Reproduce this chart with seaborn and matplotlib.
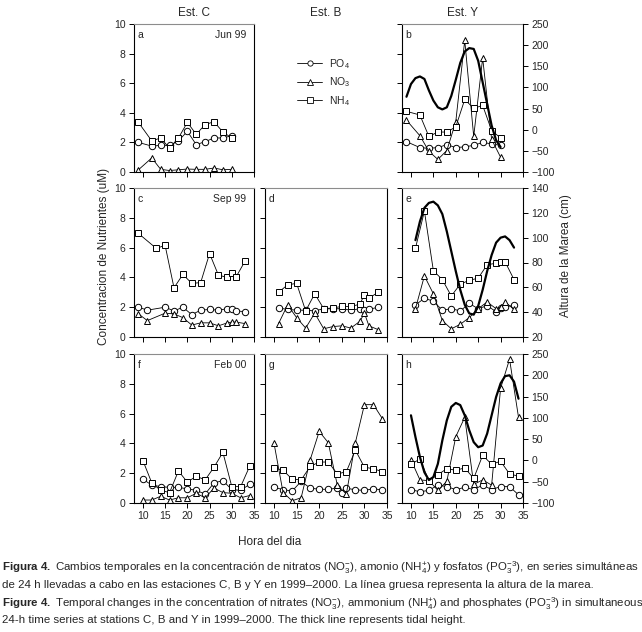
import matplotlib
matplotlib.use("Agg")
import matplotlib.pyplot as plt
from matplotlib import font_manager
from matplotlib.lines import Line2D
import seaborn as sns

# values (hour of day, concentration uM, tide cm)
# Est. C - Jun 99
a_x = [9, 12, 14, 16, 18, 20, 22, 24, 26, 28, 30]
a_po4 = [2.0, 1.75, 1.8, 1.8, 2.1, 2.75, 1.85, 2.05, 2.3, 2.3, 2.45]
a_no3 = [0.15, 0.95, 0.18, 0.1, 0.15, 0.2, 0.18, 0.18, 0.27, 0.15, 0.18]
a_nh4 = [3.35, 2.1, 2.3, 1.6, 2.3, 3.35, 2.55, 3.2, 3.4, 2.7, 2.3]

# Est. Y - Jun 99
b_x = [9, 12, 14, 16, 18, 20, 22, 24, 26, 28, 30]
b_po4 = [2.05, 1.65, 1.6, 1.65, 1.85, 1.65, 1.7, 1.8, 2.0, 1.9, 1.8]
b_no3 = [3.5, 2.45, 1.4, 0.85, 1.45, 3.4, 8.9, 2.4, 7.7, 2.2, 1.0]
b_nh4 = [4.1, 3.85, 2.4, 2.7, 2.7, 3.05, 4.9, 4.3, 4.5, 2.8, 2.3]
b_tide_x = [9, 10, 11, 12, 13, 14, 15, 16, 17, 18, 19, 20, 21, 22, 23, 24, 25, 26, 27, 28, 29, 30]
b_tide = [78, 108, 122, 126, 120, 93, 69, 53, 48, 53, 80, 118, 158, 185, 193, 191, 163, 112, 61, 10, -25, -41]

# Est. C - Sep 99
c_x = [9, 11, 15, 17, 19, 21, 23, 25, 27, 29, 30, 31, 33]
c_nh4_x = [9, 13, 15, 17, 19, 21, 23, 25, 27, 29, 30, 31, 33]
c_po4 = [2.0, 1.8, 2.0, 1.75, 2.0, 1.5, 1.8, 1.85, 1.8, 1.9, 1.85, 1.75, 1.7]
c_no3 = [1.55, 1.1, 1.6, 1.55, 1.3, 0.8, 0.95, 0.95, 0.75, 0.95, 1.0, 1.0, 0.9]
c_nh4 = [6.95, 5.95, 6.15, 3.3, 4.2, 3.6, 3.65, 5.6, 4.15, 4.0, 4.3, 4.05, 5.1]

# Est. B - Sep 99
d_x = [11, 13, 15, 17, 19, 21, 23, 25, 27, 29, 30, 31, 33]
d_po4 = [1.95, 1.85, 1.8, 1.8, 1.75, 1.9, 1.9, 1.9, 1.8, 1.9, 1.8, 1.85, 2.0]
d_no3 = [0.9, 2.15, 1.3, 0.6, 1.6, 0.55, 0.7, 0.75, 0.6, 1.05, 1.6, 0.75, 0.5]
d_nh4 = [3.0, 3.5, 3.6, 1.75, 2.9, 1.9, 1.95, 2.05, 2.05, 2.2, 2.85, 2.6, 3.0]

# Est. Y - Sep 99
e_x = [11, 13, 15, 17, 19, 21, 23, 25, 27, 29, 30, 31, 33]
e_po4 = [2.15, 2.6, 2.4, 1.8, 1.9, 1.75, 2.25, 1.9, 2.1, 1.7, 1.95, 2.0, 2.15]
e_no3 = [1.9, 4.1, 2.9, 1.1, 0.55, 0.85, 1.3, 1.9, 2.35, 1.9, 2.0, 2.35, 1.85]
e_nh4 = [5.95, 8.45, 4.45, 3.85, 2.75, 3.55, 3.8, 3.95, 4.85, 4.95, 5.05, 5.05, 3.85]
e_tide_x = [11, 12, 13, 14, 15, 16, 17, 18, 19, 20, 21, 22, 23, 24, 25, 26, 27, 28, 29, 30, 31, 32, 33]
e_tide = [98, 113, 124, 128, 129, 126, 119, 105, 89, 73, 58, 46, 39, 38, 45, 58, 73, 86, 96, 100, 101, 98, 92]

# Est. C - Feb 00
f_x = [10, 12, 14, 16, 18, 20, 22, 24, 26, 28, 30, 32, 34]
f_po4 = [1.6, 1.2, 1.1, 1.05, 1.05, 0.95, 0.85, 0.6, 1.35, 1.5, 0.9, 0.85, 1.25]
f_no3 = [0.2, 0.2, 0.45, 0.2, 0.35, 0.35, 0.65, 0.35, 1.0, 0.7, 0.65, 0.35, 0.5]
f_nh4 = [2.85, 1.35, 0.85, 0.7, 2.15, 1.4, 1.8, 1.55, 2.4, 3.4, 1.1, 1.1, 2.45]

# Est. B - Feb 00
g_x = [10, 12, 14, 16, 18, 20, 22, 24, 26, 28, 30, 32, 34]
g_po4_x = [10, 12, 14, 16, 18, 20, 22, 24, 25, 26, 28, 30, 32, 34]
g_po4 = [1.05, 0.9, 0.8, 1.45, 1.0, 0.92, 0.92, 1.0, 0.65, 1.0, 0.88, 0.85, 0.95, 0.88]
g_no3 = [4.0, 0.7, 0.15, 0.35, 2.9, 4.8, 4.05, 1.2, 0.6, 4.05, 6.6, 6.6, 5.65]
g_nh4 = [2.35, 2.2, 1.6, 1.55, 2.45, 2.75, 2.75, 1.95, 2.1, 3.55, 2.4, 2.3, 2.1]

# Est. Y - Feb 00
h_x = [10, 12, 14, 16, 18, 20, 22, 24, 26, 28, 30, 32, 34]
h_po4 = [0.9, 0.75, 0.85, 1.2, 1.1, 0.9, 1.05, 0.9, 1.2, 0.9, 1.1, 1.1, 0.55]
h_no3 = [2.9, 1.55, 1.5, 0.85, 1.45, 4.45, 5.75, 1.25, 1.55, 1.2, 7.7, 9.65, 5.75]
h_nh4 = [2.6, 2.95, 1.5, 1.9, 2.3, 2.2, 2.35, 1.65, 3.2, 2.6, 2.8, 1.95, 1.8]
h_tide_x = [10, 11, 12, 13, 14, 15, 16, 17, 18, 19, 20, 21, 22, 23, 24, 25, 26, 27, 28, 29, 30, 31, 32, 33, 34]
h_tide = [106, 55, 8, -28, -46, -39, -8, 47, 94, 126, 135, 130, 106, 71, 43, 31, 35, 63, 106, 149, 181, 198, 200, 185, 145]

stations = ["Est. C", "Est. B", "Est. Y"]
months = ["Jun 99", "Sep 99", "Feb 00"]
series_names = ["PO$_4$", "NO$_3$", "NH$_4$"]

caption = [
    r"$\mathbf{Figura\ 4.}$ Cambios temporales en la concentración de nitratos (NO$_3^{-}$), amonio (NH$_4^{+}$) y fosfatos (PO$_3^{-3}$), en series simultáneas",
    "de 24 h llevadas a cabo en las estaciones C, B y Y en 1999–2000. La línea gruesa representa la altura de la marea.",
    r"$\mathbf{Figure\ 4.}$ Temporal changes in the concentration of nitrates (NO$_3^{-}$), ammonium (NH$_4^{+}$) and phosphates (PO$_3^{-3}$) in simultaneous",
    "24-h time series at stations C, B and Y in 1999–2000. The thick line represents tidal height.",
]

# style
sns.set_style("ticks")
avail = {f.name for f in font_manager.fontManager.ttflist}
cap_font = 'Liberation Sans Narrow' if 'Liberation Sans Narrow' in avail else 'Liberation Sans'
plt.rcParams['font.family'] = ['Liberation Sans', 'DejaVu Sans']
plt.rcParams['mathtext.fontset'] = 'custom'
plt.rcParams['mathtext.rm'] = cap_font
plt.rcParams['mathtext.it'] = cap_font + ':italic'
plt.rcParams['mathtext.bf'] = cap_font + ':bold'

W, H = 642, 632
fig = plt.figure(figsize=(W / 100, H / 100), dpi=100)

col_px = [(134, 254), (265, 387), (402, 523)]
row_px = [(24, 172), (188, 337), (354, 503)]


def make_ax(r, c):
    l, rr = col_px[c]
    t, b = row_px[r]
    return fig.add_axes([l / W, 1 - b / H, (rr - l) / W, (b - t) / H])


marker_size = {'o': 4.6, '^': 5.0, 's': 4.6}


def series(ax, x, y, m):
    sns.lineplot(x=x, y=y, ax=ax, color='black', lw=0.6, marker=m,
                 markersize=marker_size[m], markerfacecolor='white',
                 markeredgecolor='black', markeredgewidth=0.7,
                 estimator=None, sort=False)


def style(ax, r, c, letter):
    ax.set_xlim(8, 35)
    ax.set_ylim(0, 10)
    ax.set_xticks(range(10, 36, 5))
    ax.set_yticks(range(0, 11, 2))
    ax.tick_params(labelsize=7.5, length=3.5, width=0.7, direction='out', color='black', pad=2.5)
    if r < 2:
        ax.set_xticklabels([])
    if c > 0:
        ax.set_yticklabels([])
    ax.set_xlabel('')
    ax.set_ylabel('')
    for s in ax.spines.values():
        s.set_color('black')
        s.set_linewidth(0.8)
    ax.spines['top'].set_color('#8c8c8c')
    ax.text(0.03, 0.905, letter, transform=ax.transAxes, fontsize=7.5, va='baseline')
    if c == 0:
        ax.text(0.935, 0.905, months[r], transform=ax.transAxes, fontsize=7.5,
                ha='right', va='baseline')


def tide(ax, tx, ty, lo, hi, step):
    tw = ax.twinx()
    sns.lineplot(x=tx, y=ty, ax=tw, color='black', lw=1.6, estimator=None, sort=False)
    tw.set_ylim(lo, hi)
    tw.set_yticks(range(lo, hi + 1, step))
    tw.set_ylabel('')
    tw.tick_params(labelsize=7.5, length=3.5, width=0.7, direction='out', color='black', pad=2.5)
    for s in ['left', 'top', 'bottom']:
        tw.spines[s].set_visible(False)
    tw.spines['right'].set_color('black')
    tw.spines['right'].set_linewidth(0.8)
    ax.spines['right'].set_visible(False)


panels = [
    (0, 0, 'a', a_x, a_po4, a_x, a_no3, a_x, a_nh4),
    (0, 2, 'b', b_x, b_po4, b_x, b_no3, b_x, b_nh4),
    (1, 0, 'c', c_x, c_po4, c_x, c_no3, c_nh4_x, c_nh4),
    (1, 1, 'd', d_x, d_po4, d_x, d_no3, d_x, d_nh4),
    (1, 2, 'e', e_x, e_po4, e_x, e_no3, e_x, e_nh4),
    (2, 0, 'f', f_x, f_po4, f_x, f_no3, f_x, f_nh4),
    (2, 1, 'g', g_po4_x, g_po4, g_x, g_no3, g_x, g_nh4),
    (2, 2, 'h', h_x, h_po4, h_x, h_no3, h_x, h_nh4),
]

axes = {}
for r, c, letter, xp, po, xn, no, xh, nh in panels:
    ax = make_ax(r, c)
    series(ax, xp, po, 'o')
    series(ax, xn, no, '^')
    series(ax, xh, nh, 's')
    style(ax, r, c, letter)
    axes[(r, c)] = ax

tide(axes[(0, 2)], b_tide_x, b_tide, -100, 250, 50)
tide(axes[(1, 2)], e_tide_x, e_tide, 20, 140, 20)
tide(axes[(2, 2)], h_tide_x, h_tide, -100, 250, 50)

# legend sits in the empty Est. B / Jun 99 slot
ax_leg = make_ax(0, 1)
ax_leg.axis('off')
handles = [Line2D([], [], color='black', lw=0.6, marker=m, markersize=3.8,
                  markerfacecolor='white', markeredgecolor='black', markeredgewidth=0.6)
           for m in ['o', '^', 's']]
ax_leg.legend(handles, series_names, loc='upper left', bbox_to_anchor=(297 / W, 1 - 57 / H),
              bbox_transform=fig.transFigure, frameon=False, fontsize=7.5,
              handlelength=2.4, handletextpad=0.7, labelspacing=0.45,
              borderpad=0, borderaxespad=0)

# titles and axis labels
for c, name in enumerate(stations):
    cx = (col_px[c][0] + col_px[c][1]) / 2
    fig.text(cx / W, 1 - 16.5 / H, name, ha='center', va='baseline', fontsize=8.5)

fig.text(104 / W, 1 - 256 / H, "Concentracion de Nutrientes (uM)", rotation=90,
         ha='center', va='center', fontsize=8.5)
fig.text(566 / W, 1 - 256 / H, "Altura de la Marea (cm)", rotation=90,
         ha='center', va='center', fontsize=8.5)
fig.text(270 / W, 1 - 545 / H, "Hora del dia", ha='center', va='baseline', fontsize=8.5)

# caption, scaled so the first line spans the page width
baselines = [571.5, 588, 606.5, 623]
cap_texts = [fig.text(2 / W, 1 - y / H, line, ha='left', va='baseline',
                      fontsize=9, family=cap_font)
             for line, y in zip(caption, baselines)]
renderer = fig.canvas.get_renderer()
w0 = cap_texts[0].get_window_extent(renderer).width
fs = 9 * 636 / w0
for t in cap_texts:
    t.set_fontsize(fs)

fig.savefig("out.png", dpi=100)
